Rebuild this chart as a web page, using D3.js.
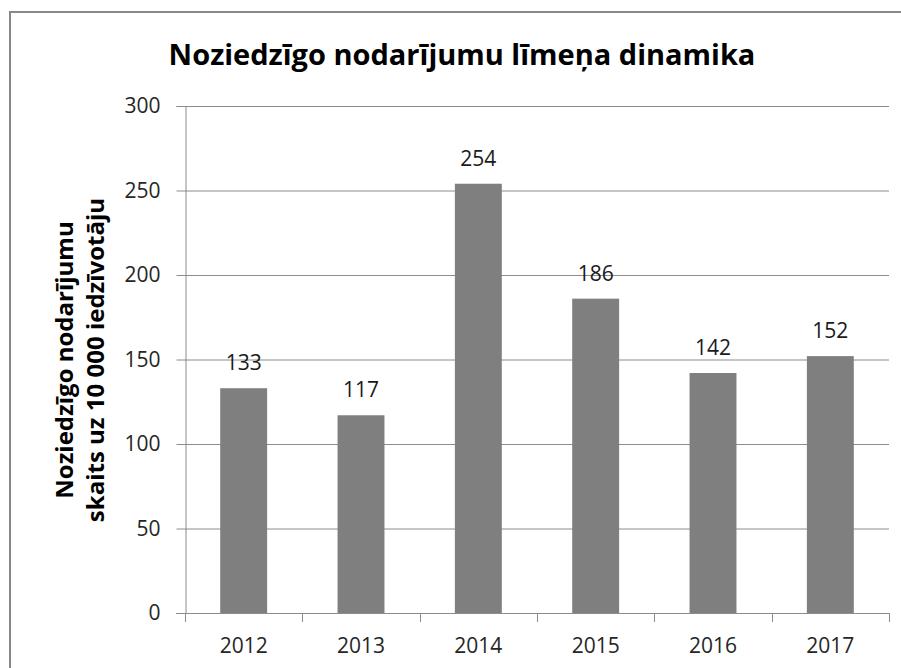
<!DOCTYPE html>
<html>
<head>
<meta charset="utf-8">
<script src="https://cdn.jsdelivr.net/npm/d3@7"></script>
<style>
  body { margin: 0; background: #fff; }
  svg { display: block; font-family: "Open Sans", Lato, sans-serif; }
</style>
</head>
<body>
<div id="chart"></div>
<script>
// crime level per 10 000 inhabitants, by year
const years = ["2012", "2013", "2014", "2015", "2016", "2017"];
const values = [133, 117, 254, 186, 142, 152];
const yTicks = [0, 50, 100, 150, 200, 250, 300];

const W = 901, H = 668;
const margin = {top: 106, right: 12, bottom: 55, left: 185};

const svg = d3.select("#chart").append("svg")
    .attr("width", W)
    .attr("height", H);

// outer frame (runs off the right and bottom edge)
svg.append("rect")
    .attr("x", 10).attr("y", 12)
    .attr("width", W + 20).attr("height", H + 20)
    .attr("fill", "none")
    .attr("stroke", "#888")
    .attr("stroke-width", 2);

const x = d3.scaleBand()
    .domain(years)
    .range([margin.left, 889])
    .paddingInner(0.6)
    .paddingOuter(0.3);

const y = d3.scaleLinear()
    .domain([0, 300])
    .range([613, margin.top]);

// gridlines
svg.append("g")
    .selectAll("line")
    .data(yTicks.filter(d => d > 0))
    .enter().append("line")
    .attr("x1", margin.left).attr("x2", 889)
    .attr("y1", d => y(d) + 0.5).attr("y2", d => y(d) + 0.5)
    .attr("stroke", "#8c8c8c")
    .attr("stroke-width", 1);

// bars
svg.append("g")
    .selectAll("rect")
    .data(values)
    .enter().append("rect")
    .attr("x", (d, i) => x(years[i]))
    .attr("y", d => y(d))
    .attr("width", x.bandwidth())
    .attr("height", d => y(0) - y(d))
    .attr("fill", "#7f7f7f");

// value labels
svg.append("g")
    .selectAll("text")
    .data(values)
    .enter().append("text")
    .attr("x", (d, i) => x(years[i]) + x.bandwidth() / 2)
    .attr("y", d => y(d) - 18)
    .attr("text-anchor", "middle")
    .style("font-size", "21px")
    .attr("fill", "#1a1a1a")
    .text(d => d);

// y axis
const yAxis = svg.append("g")
    .attr("transform", "translate(" + (margin.left + 0.5) + ",0)")
    .call(d3.axisLeft(y).tickValues(yTicks).tickSize(9).tickPadding(16));
yAxis.select(".domain").attr("stroke", "#8c8c8c");
yAxis.selectAll(".tick line").attr("stroke", "#8c8c8c");
yAxis.selectAll(".tick text")
    .style("font-size", "21px")
    .style("font-family", "'Open Sans', sans-serif")
    .attr("fill", "#262626");

// x axis: line at zero, ticks at the category borders
const xg = svg.append("g");
xg.append("line")
    .attr("x1", margin.left - 9).attr("x2", 889)
    .attr("y1", y(0) + 0.5).attr("y2", y(0) + 0.5)
    .attr("stroke", "#8c8c8c");
xg.selectAll(".xt")
    .data(d3.range(years.length + 1))
    .enter().append("line")
    .attr("x1", i => Math.round(margin.left + i * x.step()) + 0.5)
    .attr("x2", i => Math.round(margin.left + i * x.step()) + 0.5)
    .attr("y1", y(0)).attr("y2", y(0) + 9)
    .attr("stroke", "#8c8c8c");
xg.selectAll("text")
    .data(years)
    .enter().append("text")
    .attr("x", d => x(d) + x.bandwidth() / 2)
    .attr("y", 653)
    .attr("text-anchor", "middle")
    .style("font-size", "21px")
    .attr("fill", "#262626")
    .text(d => d);

// title
svg.append("text")
    .attr("x", 462)
    .attr("y", 65)
    .attr("text-anchor", "middle")
    .style("font-size", "29px")
    .style("font-weight", "bold")
    .attr("fill", "#000")
    .text("Noziedzīgo nodarījumu līmeņa dinamika");

// y axis title, two lines
const yt = svg.append("text")
    .attr("transform", "translate(0,360) rotate(-90)")
    .attr("text-anchor", "middle")
    .style("font-size", "24px")
    .style("font-weight", "bold")
    .attr("fill", "#000");
yt.append("tspan").attr("x", 0).attr("y", 73).text("Noziedzīgo nodarījumu");
yt.append("tspan").attr("x", 0).attr("y", 104).text("skaits uz 10 000 iedzīvotāju");
</script>
</body>
</html>
